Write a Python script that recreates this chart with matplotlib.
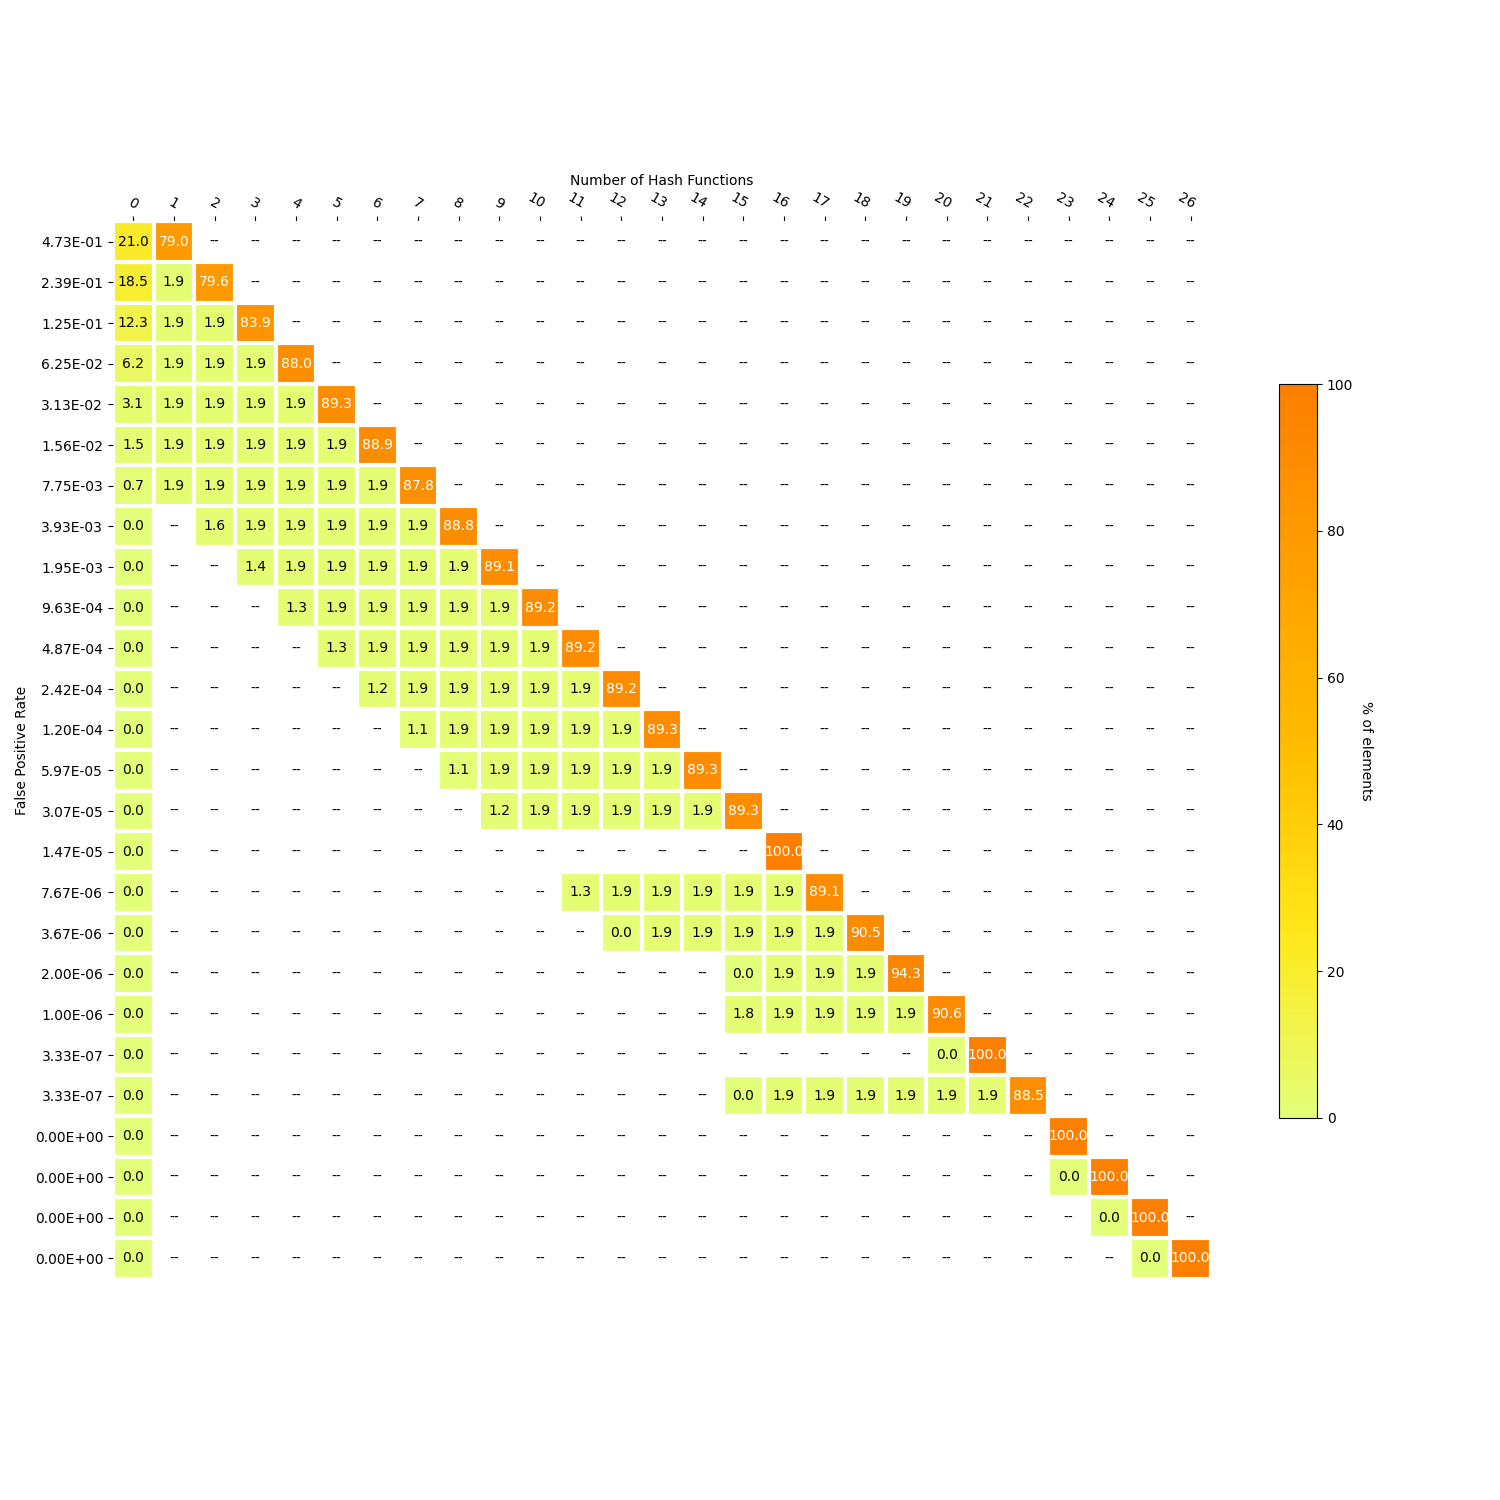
import numpy as np
import matplotlib
matplotlib.use("Agg")
import matplotlib.pyplot as plt

n_hash = list(range(27))
fpr_labels = ["4.73E-01", "2.39E-01", "1.25E-01", "6.25E-02", "3.13E-02", "1.56E-02",
              "7.75E-03", "3.93E-03", "1.95E-03", "9.63E-04", "4.87E-04", "2.42E-04",
              "1.20E-04", "5.97E-05", "3.07E-05", "1.47E-05", "7.67E-06", "3.67E-06",
              "2.00E-06", "1.00E-06", "3.33E-07", "3.33E-07", "0.00E+00", "0.00E+00",
              "0.00E+00", "0.00E+00"]

# each row: {column: value}
row_00 = {0: 21.0, 1: 79.0}
row_01 = {0: 18.5, 1: 1.9, 2: 79.6}
row_02 = {0: 12.3, 1: 1.9, 2: 1.9, 3: 83.9}
row_03 = {0: 6.2, 1: 1.9, 2: 1.9, 3: 1.9, 4: 88.0}
row_04 = {0: 3.1, 1: 1.9, 2: 1.9, 3: 1.9, 4: 1.9, 5: 89.3}
row_05 = {0: 1.5, 1: 1.9, 2: 1.9, 3: 1.9, 4: 1.9, 5: 1.9, 6: 88.9}
row_06 = {0: 0.7, 1: 1.9, 2: 1.9, 3: 1.9, 4: 1.9, 5: 1.9, 6: 1.9, 7: 87.8}
row_07 = {0: 0.0, 2: 1.6, 3: 1.9, 4: 1.9, 5: 1.9, 6: 1.9, 7: 1.9, 8: 88.8}
row_08 = {0: 0.0, 3: 1.4, 4: 1.9, 5: 1.9, 6: 1.9, 7: 1.9, 8: 1.9, 9: 89.1}
row_09 = {0: 0.0, 4: 1.3, 5: 1.9, 6: 1.9, 7: 1.9, 8: 1.9, 9: 1.9, 10: 89.2}
row_10 = {0: 0.0, 5: 1.3, 6: 1.9, 7: 1.9, 8: 1.9, 9: 1.9, 10: 1.9, 11: 89.2}
row_11 = {0: 0.0, 6: 1.2, 7: 1.9, 8: 1.9, 9: 1.9, 10: 1.9, 11: 1.9, 12: 89.2}
row_12 = {0: 0.0, 7: 1.1, 8: 1.9, 9: 1.9, 10: 1.9, 11: 1.9, 12: 1.9, 13: 89.3}
row_13 = {0: 0.0, 8: 1.1, 9: 1.9, 10: 1.9, 11: 1.9, 12: 1.9, 13: 1.9, 14: 89.3}
row_14 = {0: 0.0, 9: 1.2, 10: 1.9, 11: 1.9, 12: 1.9, 13: 1.9, 14: 1.9, 15: 89.3}
row_15 = {0: 0.0, 16: 100.0}
row_16 = {0: 0.0, 11: 1.3, 12: 1.9, 13: 1.9, 14: 1.9, 15: 1.9, 16: 1.9, 17: 89.1}
row_17 = {0: 0.0, 12: 0.0, 13: 1.9, 14: 1.9, 15: 1.9, 16: 1.9, 17: 1.9, 18: 90.5}
row_18 = {0: 0.0, 15: 0.0, 16: 1.9, 17: 1.9, 18: 1.9, 19: 94.3}
row_19 = {0: 0.0, 15: 1.8, 16: 1.9, 17: 1.9, 18: 1.9, 19: 1.9, 20: 90.6}
row_20 = {0: 0.0, 20: 0.0, 21: 100.0}
row_21 = {0: 0.0, 15: 0.0, 16: 1.9, 17: 1.9, 18: 1.9, 19: 1.9, 20: 1.9, 21: 1.9, 22: 88.5}
row_22 = {0: 0.0, 23: 100.0}
row_23 = {0: 0.0, 23: 0.0, 24: 100.0}
row_24 = {0: 0.0, 24: 0.0, 25: 100.0}
row_25 = {0: 0.0, 25: 0.0, 26: 100.0}

rows = [row_00, row_01, row_02, row_03, row_04, row_05, row_06, row_07, row_08,
        row_09, row_10, row_11, row_12, row_13, row_14, row_15, row_16, row_17,
        row_18, row_19, row_20, row_21, row_22, row_23, row_24, row_25]

data = np.full((len(fpr_labels), len(n_hash)), np.nan)
for i, r in enumerate(rows):
    for j, v in r.items():
        data[i, j] = v

fig = plt.figure(figsize=(15, 15), dpi=100)
ax = fig.add_axes([0.0753, 0.1473, 0.7320, 0.7053])
cax = fig.add_axes([0.8527, 0.2547, 0.0253, 0.4893])

cmap = plt.get_cmap("Wistia")
im = ax.imshow(np.ma.masked_invalid(data), cmap=cmap, vmin=0, vmax=100, aspect="equal")

cbar = fig.colorbar(im, cax=cax)
cbar.ax.set_ylabel("% of elements", rotation=-90, va="bottom", fontsize=10)
cbar.ax.tick_params(labelsize=10)

ax.set_xticks(np.arange(len(n_hash)))
ax.set_xticklabels([str(h) for h in n_hash])
ax.set_yticks(np.arange(len(fpr_labels)))
ax.set_yticklabels(fpr_labels)
ax.tick_params(top=True, bottom=False, labeltop=True, labelbottom=False, labelsize=10)
plt.setp(ax.get_xticklabels(), rotation=-30, ha="right", rotation_mode="anchor")
ax.xaxis.set_label_position("top")
ax.set_xlabel("Number of Hash Functions", fontsize=10)
ax.set_ylabel("False Positive Rate", fontsize=10)

for s in ax.spines.values():
    s.set_visible(False)
ax.set_xticks(np.arange(data.shape[1] + 1) - .5, minor=True)
ax.set_yticks(np.arange(data.shape[0] + 1) - .5, minor=True)
ax.grid(which="minor", color="w", linestyle="-", linewidth=3)
ax.tick_params(which="minor", bottom=False, left=False, top=False)

for i in range(data.shape[0]):
    for j in range(data.shape[1]):
        v = data[i, j]
        if np.isnan(v):
            ax.text(j, i, "--", ha="center", va="center", color="black", fontsize=10)
        else:
            ax.text(j, i, f"{v:.1f}", ha="center", va="center",
                    color="white" if v > 50 else "black", fontsize=10)

fig.savefig("out.png", dpi=100)
